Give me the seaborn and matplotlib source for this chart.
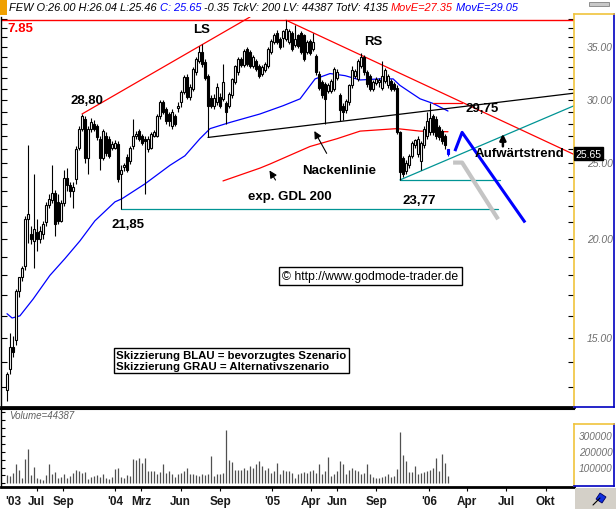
import numpy as np
import pandas as pd
import matplotlib
matplotlib.use("Agg")
import matplotlib.pyplot as plt
import matplotlib.transforms as mtransforms
from matplotlib.patches import Rectangle, Polygon
from matplotlib.ticker import NullLocator, NullFormatter, FixedLocator
import seaborn as sns

# ---------------- weekly OHLC (FEW) ----------------
first_week = "2003-04-23"
open_ = [12.9, 13.7, 14.6, 14.9, 17.2, 17.9, 18.5, 21.2, 20.3, 19.9,
         20.4, 20.0, 20.3, 21.0, 22.1, 22.4, 22.9, 22.3, 21.1, 22.2,
         23.9, 23.4, 23.0, 23.8, 26.1, 27.6, 28.4, 25.3, 27.6, 28.0,
         27.8, 26.8, 25.3, 27.0, 26.8, 26.1, 26.1, 26.4, 24.2, 24.7,
         25.4, 25.1, 26.2, 27.0, 27.4, 27.0, 26.8, 26.0, 26.1, 27.0,
         27.0, 28.6, 29.8, 29.2, 28.8, 27.8, 28.6, 29.3, 29.8, 30.7,
         32.1, 30.3, 31.0, 32.5, 33.6, 34.5, 33.5, 32.2, 30.2, 29.5,
         29.8, 30.3, 30.1, 29.7, 29.5, 30.4, 31.6, 32.5, 33.8, 33.2,
         34.8, 34.5, 33.1, 33.6, 33.1, 32.4, 32.7, 33.1, 34.5, 35.5,
         36.5, 35.8, 35.9, 35.8, 35.5, 36.5, 35.2, 36.2, 36.5, 36.2,
         34.5, 35.6, 34.8, 34.1, 32.4, 31.6, 31.4, 30.8, 30.8, 31.0,
         32.0, 30.4, 29.5, 29.1, 29.8, 31.3, 32.2, 31.9, 33.1, 34.0,
         32.5, 32.2, 31.0, 31.5, 31.6, 31.1, 31.7, 31.3, 31.7, 31.4,
         31.1, 27.3, 25.3, 24.4, 24.8, 25.5, 26.3, 25.6, 25.1, 26.3,
         27.0, 27.3, 28.6, 28.4, 27.7, 27.4, 27.0, 26.00]
high = [13.6, 15.2, 15.1, 17.3, 17.9, 18.5, 21.4, 26.3, 20.8, 24.2,
        21.2, 20.8, 21.1, 22.3, 22.8, 24.8, 23.1, 22.8, 22.4, 24.5,
        24.6, 23.6, 23.6, 26.2, 27.8, 28.8, 28.6, 27.8, 28.5, 28.3,
        28.0, 27.0, 27.6, 27.3, 27.0, 26.6, 26.7, 26.6, 24.8, 25.0,
        25.6, 26.2, 28.4, 27.4, 27.6, 27.2, 27.0, 27.0, 27.3, 27.5,
        28.8, 30.0, 30.0, 29.4, 29.0, 29.2, 28.8, 29.8, 30.9, 32.3,
        32.4, 31.4, 33.0, 34.0, 35.1, 35.3, 33.8, 32.4, 30.4, 30.5,
        31.5, 30.6, 33.3, 29.9, 30.7, 32.0, 33.2, 34.0, 34.0, 34.8,
        35.0, 34.7, 34.2, 33.8, 33.3, 33.2, 33.5, 35.0, 35.8, 36.5,
        36.8, 36.0, 36.8, 37.85, 36.9, 36.7, 37.3, 36.4, 36.7, 36.4,
        35.7, 35.8, 36.5, 34.3, 32.6, 31.8, 31.6, 31.5, 31.9, 33.0,
        32.8, 30.6, 29.7, 30.1, 31.4, 33.1, 32.8, 33.8, 34.4, 34.2,
        32.7, 32.4, 31.8, 32.1, 32.0, 33.6, 32.9, 32.4, 31.9, 31.6,
        31.3, 27.4, 25.5, 25.2, 25.6, 26.6, 26.8, 27.0, 26.6, 27.8,
        29.0, 29.75, 28.8, 28.6, 27.9, 27.6, 27.2, 26.04]
low = [12.5, 13.5, 14.2, 14.7, 16.9, 17.7, 18.3, 19.8, 19.7, 18.4,
       19.3, 19.8, 20.0, 20.8, 21.9, 22.2, 20.2, 20.9, 21.0, 22.0,
       23.0, 22.6, 21.9, 23.5, 25.9, 27.4, 25.0, 24.2, 27.3, 27.4,
       26.7, 24.5, 25.2, 25.5, 25.3, 25.9, 26.0, 23.6, 21.85, 24.4,
       24.3, 24.9, 26.0, 26.8, 26.6, 26.3, 22.8, 25.8, 26.0, 26.9,
       26.9, 28.4, 28.8, 28.0, 27.8, 27.6, 27.8, 29.0, 29.4, 30.5,
       30.1, 30.0, 30.8, 32.3, 33.4, 33.0, 31.8, 26.9, 29.3, 29.2,
       29.6, 29.3, 29.9, 28.0, 29.3, 30.2, 31.4, 32.3, 33.0, 33.0,
       33.1, 32.9, 32.9, 32.6, 32.0, 32.2, 32.5, 32.9, 34.3, 35.3,
       35.3, 34.8, 35.0, 35.6, 35.3, 34.6, 35.0, 34.9, 34.3, 33.6,
       34.3, 34.2, 34.6, 32.3, 30.9, 30.2, 28.0, 30.6, 30.6, 30.8,
       31.8, 28.2, 28.3, 28.9, 29.6, 31.1, 32.0, 31.7, 32.9, 32.3,
       31.2, 30.8, 30.8, 31.3, 31.2, 30.9, 31.5, 31.1, 30.8, 30.8,
       27.2, 23.77, 24.0, 24.2, 24.6, 25.3, 26.1, 25.4, 24.5, 26.1,
       26.8, 27.1, 27.1, 26.8, 26.7, 26.4, 26.0, 25.46]
close = [13.5, 14.6, 14.4, 17.2, 17.9, 18.4, 21.2, 21.5, 20.0, 20.6,
         20.0, 20.5, 20.9, 22.1, 22.5, 22.9, 20.9, 21.1, 22.2, 23.9,
         23.4, 23.0, 23.3, 26.0, 27.6, 28.6, 25.3, 27.6, 28.1, 27.6,
         26.9, 25.3, 27.4, 25.7, 25.5, 26.4, 26.5, 23.8, 24.5, 24.8,
         24.5, 26.1, 27.0, 27.2, 26.8, 26.5, 26.6, 26.8, 27.2, 27.3,
         28.6, 29.8, 29.0, 28.2, 28.2, 29.0, 28.0, 29.5, 30.7, 32.1,
         30.3, 31.2, 32.8, 33.8, 34.5, 33.3, 32.0, 29.5, 29.5, 30.2,
         31.2, 29.5, 31.6, 29.0, 30.5, 31.9, 33.1, 33.8, 33.2, 34.6,
         33.3, 33.1, 34.0, 32.8, 32.2, 33.0, 33.3, 34.8, 35.6, 36.2,
         35.5, 35.0, 36.7, 36.9, 36.7, 34.8, 35.8, 35.1, 34.5, 33.8,
         35.5, 34.4, 35.5, 32.5, 31.1, 30.4, 30.1, 31.3, 31.7, 32.8,
         32.5, 29.1, 29.0, 29.9, 31.3, 32.7, 32.6, 33.6, 34.0, 32.5,
         31.4, 31.0, 31.6, 31.9, 31.8, 32.2, 32.7, 32.2, 31.0, 31.0,
         27.3, 24.3, 24.2, 25.0, 25.5, 26.5, 26.7, 26.8, 26.5, 27.6,
         28.2, 28.5, 27.3, 27.0, 26.9, 26.6, 26.3, 25.65]
# weekly volume, thousand shares
volume_k = [50, 46, 67, 119, 87, 35, 154, 217, 50, 104,
            31, 25, 21, 54, 123, 56, 71, 37, 42, 62,
            31, 46, 67, 83, 79, 67, 71, 29, 40, 46,
            54, 42, 62, 35, 29, 40, 92, 98, 42, 35,
            50, 46, 154, 150, 160, 129, 160, 77, 75, 77,
            56, 71, 119, 67, 77, 56, 42, 56, 67, 77,
            98, 56, 62, 50, 46, 56, 50, 56, 171, 46,
            56, 62, 67, 337, 150, 133, 87, 83, 87, 98,
            87, 108, 98, 119, 144, 108, 87, 98, 67, 77,
            129, 56, 83, 77, 81, 67, 35, 56, 67, 71,
            67, 77, 83, 67, 119, 56, 77, 167, 46, 56,
            77, 140, 125, 56, 87, 98, 87, 77, 56, 67,
            119, 56, 42, 35, 33, 42, 46, 56, 42, 46,
            92, 321, 181, 140, 71, 71, 112, 56, 67, 71,
            77, 87, 98, 160, 77, 187, 129, 44.387]

# moving averages (week index, value)
ma_week = [0, 1.7, 4.3, 8.7, 14.3, 19.3, 24.3, 29.3, 36, 38.3, 46, 54.3, 59.3,
           64.3, 67.7, 74.3, 84.3, 92, 97.7, 102.7, 107.7, 112.7, 117.7,
           124.3, 128.7, 131, 134.3, 137.7, 142, 147]
ma_val = [16.1, 15.9, 16.0, 16.8, 18.0, 18.9, 19.9, 21.1, 22.3, 22.5, 23.5, 24.8,
          25.5, 26.8, 27.6, 28.1, 28.8, 29.5, 30.1, 31.9, 32.4, 32.2, 31.8,
          31.9, 31.9, 31.3, 30.7, 30.1, 29.7, 29.05]
gdl_week = [72, 84.3, 87.7, 101, 110, 117.7, 130, 137.7, 147]
gdl_val = [23.7, 24.6, 24.9, 26.2, 26.8, 27.4, 27.6, 27.4, 27.35]

# drawn analysis lines (week index, price)
res_up_w, res_up_p = [25, 81], [28.80, 38.2]
res_dn_w, res_dn_p = [93, 189], [37.85, 25.6]
neck_w, neck_p = [67, 189], [26.9, 30.6]
trend_w, trend_p = [131, 189], [23.77, 29.5]
lvl2377_w, lvl2377_p = [131, 164.3], [23.77, 23.77]
lvl2185_w, lvl2185_p = [38, 163.7], [21.85, 21.85]
lvl2975_w, lvl2975_p = [142, 151.7], [29.75, 29.75]
blue_w, blue_p = [149.3, 151.7, 172.7], [25.85, 27.3, 21.0]
grey_w, grey_p = [148.7, 151.7, 163.7], [25.0, 25.0, 21.2]
top_level = 37.85

tick_dates = ["2003-07-01", "2003-09-01", "2004-01-01", "2004-03-01", "2004-06-01",
              "2004-09-01", "2005-01-01", "2005-04-01", "2005-06-01", "2005-09-01",
              "2006-01-01", "2006-04-01", "2006-07-01", "2006-10-01"]
tick_labels = ["Jul", "Sep", "'04", "Mrz", "Jun", "Sep", "'05", "Apr", "Jun", "Sep",
               "'06", "Apr", "Jul", "Okt"]
price_labels = [35, 30, 25, 20, 15]
vol_labels = [300000, 200000, 100000]

# ---------------- style ----------------
sns.set_style("white")
plt.rcParams['font.family'] = ['Liberation Sans', 'DejaVu Sans']

W, H = 616, 510
fig = plt.figure(figsize=(W / 100, H / 100), dpi=100)
fig.patch.set_facecolor('white')


def px_axes(l, t, r, b, **kw):
    return fig.add_axes([l / W, 1 - b / H, (r - l) / W, (b - t) / H], **kw)


ax = px_axes(1, 18, 574, 408)
axv = px_axes(1, 410, 574, 488)
axr = px_axes(574, 15, 614, 408)
axvr = px_axes(574, 425, 614, 487)

N = len(close)
x = np.arange(N)
o = np.array(open_); h = np.array(high); l = np.array(low); c = np.array(close)
XL = (-2, 189)

# ---------------- price panel ----------------
ax.set_yscale('log')
ax.set_ylim(12.27, 38.2)
ax.set_xlim(*XL)

edge = ['black'] * (N - 1) + ['blue']
face = []
for i in range(N):
    if i == N - 1:
        face.append('blue')
    elif c[i] >= o[i]:
        face.append('white')
    else:
        face.append('black')
ax.vlines(x, l, h, colors=edge, lw=0.8, zorder=3)
lo = np.minimum(o, c); hi = np.maximum(o, c)
hi = np.where(hi - lo < 0.03, lo + 0.03, hi)
ax.bar(x, hi - lo, bottom=lo, width=0.8, color=face, edgecolor=edge,
       linewidth=0.8, zorder=4)

sns.lineplot(x=ma_week, y=ma_val, ax=ax, color='#0000ff', linewidth=0.9,
             estimator=None, sort=False, legend=False, zorder=2)
sns.lineplot(x=gdl_week, y=gdl_val, ax=ax, color='#ff0000', linewidth=0.9,
             estimator=None, sort=False, legend=False, zorder=2)

ax.axhline(top_level, color='#ff0000', lw=1.0, zorder=2)
ax.plot(res_up_w, res_up_p, color='#ff0000', lw=0.9, zorder=2)
ax.plot(res_dn_w, res_dn_p, color='#ff0000', lw=0.9, zorder=2)
ax.plot(neck_w, neck_p, color='black', lw=0.9, zorder=2)
teal = '#009494'
ax.plot(trend_w, trend_p, color=teal, lw=0.9, zorder=2)
ax.plot(lvl2377_w, lvl2377_p, color=teal, lw=0.9, zorder=2)
ax.plot(lvl2185_w, lvl2185_p, color=teal, lw=0.9, zorder=2)
ax.plot(lvl2975_w, lvl2975_p, color='#ff0000', lw=0.9, zorder=2)
ax.plot(grey_w, grey_p, color='#c4c4c4', lw=3.0, zorder=5, solid_capstyle='butt')
ax.plot(blue_w, blue_p, color='#0000ff', lw=2.2, zorder=6, solid_capstyle='butt')

arrow = dict(arrowstyle='-|>', color='black', lw=0.8, mutation_scale=11)
ax.annotate('', xy=(102, 27.6), xytext=(107, 25.5), arrowprops=arrow, zorder=7)
ax.annotate('', xy=(87, 24.6), xytext=(90, 23.6), arrowprops=arrow, zorder=7)
ax.annotate('', xy=(165.3, 27.4), xytext=(165.3, 26.0),
            arrowprops=dict(arrowstyle='-|>', color='black', lw=1.8, mutation_scale=9),
            zorder=7)

lab = dict(fontsize=9.5, fontweight='bold', color='black', ha='center', va='center', zorder=8)
ax.text(65, 36.9, "LS", **lab)
ax.text(122, 35.6, "RS", **lab)
ax.text(26.7, 30.0, "28,80", **lab)
ax.text(40.3, 20.9, "21,85", **lab)
ax.text(137.5, 22.4, "23,77", **lab)
ax.text(158.5, 29.3, "29,75", **lab)
ax.text(110.7, 24.5, "Nackenlinie", **lab)
ax.text(94.3, 22.7, "exp. GDL 200", **lab)
ax.text(171, 25.7, "Aufwärtstrend", **lab)

ax.yaxis.set_major_locator(FixedLocator(np.arange(13, 39)))
ax.yaxis.set_major_formatter(NullFormatter())
ax.yaxis.set_minor_locator(NullLocator())
ax.yaxis.set_minor_formatter(NullFormatter())
ax.tick_params(axis='y', which='major', direction='in', length=4, width=0.8,
               left=True, right=True, labelleft=False, labelright=False, color='black')
ax.tick_params(axis='x', bottom=False, labelbottom=False)
for s in ['top', 'right']:
    ax.spines[s].set_visible(False)
ax.spines['left'].set_color('black'); ax.spines['left'].set_linewidth(1)
ax.spines['bottom'].set_color('black'); ax.spines['bottom'].set_linewidth(2)
ax.set_xlabel(''); ax.set_ylabel('')

# ---------------- volume panel ----------------
axv.set_xlim(*XL)
axv.set_ylim(-22580, 467740)
axv.vlines(x, 0, np.array(volume_k) * 1000, colors='#505050', lw=0.9)
start = pd.Timestamp(first_week)
tick_pos = [(pd.Timestamp(d) - start).days / 7 for d in tick_dates]
axv.set_xticks(tick_pos)
axv.set_xticklabels(tick_labels, fontsize=8.5, fontweight='bold', color='#1a1a1a')
axv.tick_params(axis='x', direction='out', length=3, width=0.8, pad=3, bottom=True,
                color='black')
fig.canvas.draw()
lbl0 = axv.get_xticklabels()[0]
axv.annotate("'03", xy=(2.0, 0), xycoords=mtransforms.blended_transform_factory(axv.transData, axv.transAxes),
             xytext=(0, -6), textcoords='offset points',
             fontsize=8.5, fontweight='bold', color='#1a1a1a', ha='center', va='top')
axv.set_yticks(np.arange(0, 450001, 50000))
axv.yaxis.set_major_formatter(NullFormatter())
axv.tick_params(axis='y', direction='in', length=3, width=0.8, left=True,
                labelleft=False, color='black')
axv.spines['right'].set_visible(False)
axv.spines['top'].set_linewidth(1.5)
axv.spines['bottom'].set_linewidth(2)
axv.spines['left'].set_linewidth(1)
for s in ['top', 'bottom', 'left']:
    axv.spines[s].set_color('black')
axv.set_xlabel(''); axv.set_ylabel('')

# ---------------- right scale panels ----------------
yellow = '#f0c43c'
navy = '#0000c0'
for a in (axr, axvr):
    a.set_xticks([]); a.set_yticks([])
    a.spines['left'].set_color(yellow); a.spines['top'].set_color(yellow)
    a.spines['right'].set_color(navy); a.spines['bottom'].set_color(navy)
    for s in a.spines.values():
        s.set_linewidth(1.2)
    a.set_facecolor('white')

axr.set_yscale('log')
axr.set_ylim(12.27, 38.53)
axr.yaxis.set_minor_locator(NullLocator())
axr.set_yticks([])
tr = mtransforms.blended_transform_factory(axr.transAxes, axr.transData)
for p in price_labels:
    axr.text(0.97, p, f"{p:.2f}", transform=tr, ha='right', va='center',
             fontsize=7.5, style='italic', color='#6e6e6e')
axr.text(0.04, close[-1], f"{close[-1]:.2f}", transform=tr, ha='left', va='center',
         fontsize=7.5, color='white',
         bbox=dict(boxstyle='square,pad=0.12', fc='black', ec='black'))

axvr.set_ylim(-16130, 377420)
trv = mtransforms.blended_transform_factory(axvr.transAxes, axvr.transData)
for v in vol_labels:
    axvr.text(0.97, v, f"{v}", transform=trv, ha='right', va='center',
              fontsize=7.2, style='italic', color='#6e6e6e')

# ---------------- overlay: header, notes, frame bits ----------------
over = fig.add_axes([0, 0, 1, 1], facecolor='none')
over.set_xlim(0, W); over.set_ylim(H, 0)
over.axis('off')
over.set_zorder(10)

over.add_patch(Rectangle((0, 0), 7, 16, fc='#f0a000', ec='none'))
over.add_patch(Rectangle((589, 3), 20, 4, fc='#c8c8c8', ec='#808080', lw=0.6))
over.add_patch(Rectangle((575, 489), 41, 21, fc='#d4d0c8', ec='none'))
over.add_patch(Polygon([[600, 494], [606, 498], [602, 504], [596, 500]], closed=True,
                       fc='#1030e0', ec='#000060', lw=0.6))
over.plot([593, 600], [506, 499], color='black', lw=0.8)

hdr = [("FEW O:26.00 H:26.04 L:25.46 ", 'black'), ("C: 25.65", '#0000ff'),
       (" -0.35 TckV: 200 LV: 44387 TotV: 4135 ", 'black'), ("MovE=27.35", '#ff0000'),
       (" MovE=29.05", '#0000ff')]
t = over.text(9, 8, hdr[0][0], color=hdr[0][1], fontsize=7.9, style='italic',
              ha='left', va='center')
for s, col in hdr[1:]:
    t = over.annotate(s, xy=(1, 0), xycoords=t, ha='left', va='bottom', color=col,
                      fontsize=7.9, style='italic')

over.text(7, 29.5, "7.85", color='#ff0000', fontsize=9.5, fontweight='bold',
          ha='left', va='center')
over.text(9, 416, f"Volume={int(round(volume_k[-1] * 1000))}", color='#606060',
          fontsize=7, style='italic', ha='left', va='center')

over.text(370.5, 277, "\u00a9 http://www.godmode-trader.de", fontsize=8.8,
          ha='center', va='center', color='black',
          bbox=dict(boxstyle='square,pad=0.28', fc='white', ec='black', lw=1))
over.text(116, 361.5, "Skizzierung BLAU = bevorzugtes Szenario\nSkizzierung GRAU = Alternativszenario",
          fontsize=8.2, fontweight='bold', ha='left', va='center', linespacing=1.1,
          color='black',
          bbox=dict(boxstyle='square,pad=0.2', fc='white', ec='black', lw=1))

fig.savefig("out.png", dpi=100)
